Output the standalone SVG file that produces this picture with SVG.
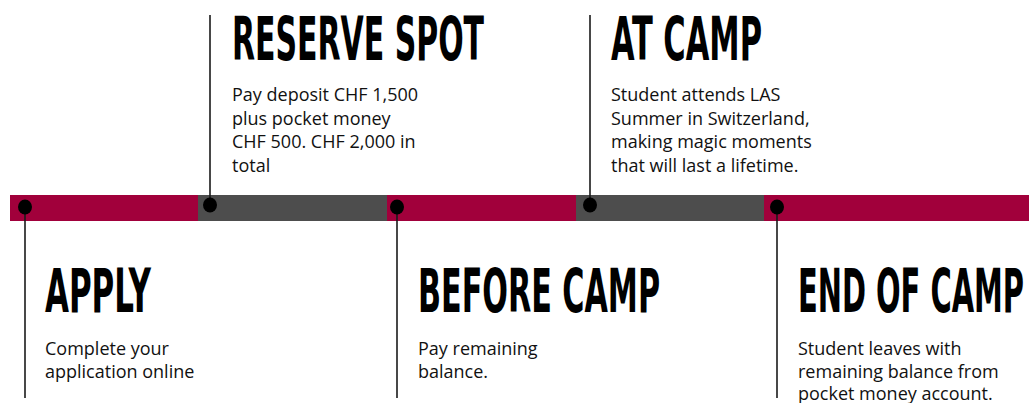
<svg xmlns="http://www.w3.org/2000/svg" width="1029" height="403" viewBox="0 0 1029 403">
<style>
.red{fill:#A1003B}
.grey{fill:#4D4D4D}
.dot{fill:#000}
.line{stroke:#1a1a1a;stroke-width:1.6;fill:none}
.title{font-family:"DejaVu Sans Condensed","DejaVu Sans",sans-serif;font-weight:bold;font-size:60px;fill:#000}
.body{font-family:"Open Sans","Lato",sans-serif;font-size:18px;fill:#111}
</style>
<rect width="1029" height="403" fill="#fff"/>
<g id="bar">
<rect class="red" x="10" y="195" width="188" height="26"/>
<rect class="grey" x="198" y="195" width="189" height="26"/>
<rect class="red" x="387" y="195" width="189" height="26"/>
<rect class="grey" x="576" y="195" width="188" height="26"/>
<rect class="red" x="764" y="195" width="265" height="26"/>
</g>
<g id="connectors">
<line class="line" x1="25" y1="207" x2="25" y2="398"/>
<line class="line" x1="210" y1="15" x2="210" y2="205"/>
<line class="line" x1="397" y1="207" x2="397" y2="398"/>
<line class="line" x1="590" y1="15" x2="590" y2="205"/>
<line class="line" x1="777" y1="207" x2="777" y2="398"/>
</g>
<g id="apply">
<ellipse class="dot" cx="25" cy="207" rx="7" ry="7.5"/>
<text class="title" x="45" y="312" textLength="106" lengthAdjust="spacingAndGlyphs">APPLY</text>
<text class="body" x="45" y="355">Complete your</text>
<text class="body" x="45" y="378">application online</text>
</g>
<g id="reserve-spot">
<ellipse class="dot" cx="210" cy="205" rx="7" ry="7.5"/>
<text class="title" x="232" y="60" textLength="252" lengthAdjust="spacingAndGlyphs">RESERVE SPOT</text>
<text class="body" x="232" y="101">Pay deposit CHF 1,500</text>
<text class="body" x="232" y="125">plus pocket money</text>
<text class="body" x="232" y="148">CHF 500. CHF 2,000 in</text>
<text class="body" x="232" y="172">total</text>
</g>
<g id="before-camp">
<ellipse class="dot" cx="397" cy="207" rx="7" ry="7.5"/>
<text class="title" x="418" y="312" textLength="242" lengthAdjust="spacingAndGlyphs">BEFORE CAMP</text>
<text class="body" x="418" y="355">Pay remaining</text>
<text class="body" x="418" y="378">balance.</text>
</g>
<g id="at-camp">
<ellipse class="dot" cx="590" cy="205" rx="7" ry="7.5"/>
<text class="title" x="611" y="60" textLength="151" lengthAdjust="spacingAndGlyphs">AT CAMP</text>
<text class="body" x="611" y="101">Student attends LAS</text>
<text class="body" x="611" y="125">Summer in Switzerland,</text>
<text class="body" x="611" y="148">making magic moments</text>
<text class="body" x="611" y="172">that will last a lifetime.</text>
</g>
<g id="end-of-camp">
<ellipse class="dot" cx="777" cy="207" rx="7" ry="7.5"/>
<text class="title" x="798" y="312" textLength="226" lengthAdjust="spacingAndGlyphs">END OF CAMP</text>
<text class="body" x="798" y="355">Student leaves with</text>
<text class="body" x="798" y="378">remaining balance from</text>
<text class="body" x="798" y="400">pocket money account.</text>
</g>
</svg>
